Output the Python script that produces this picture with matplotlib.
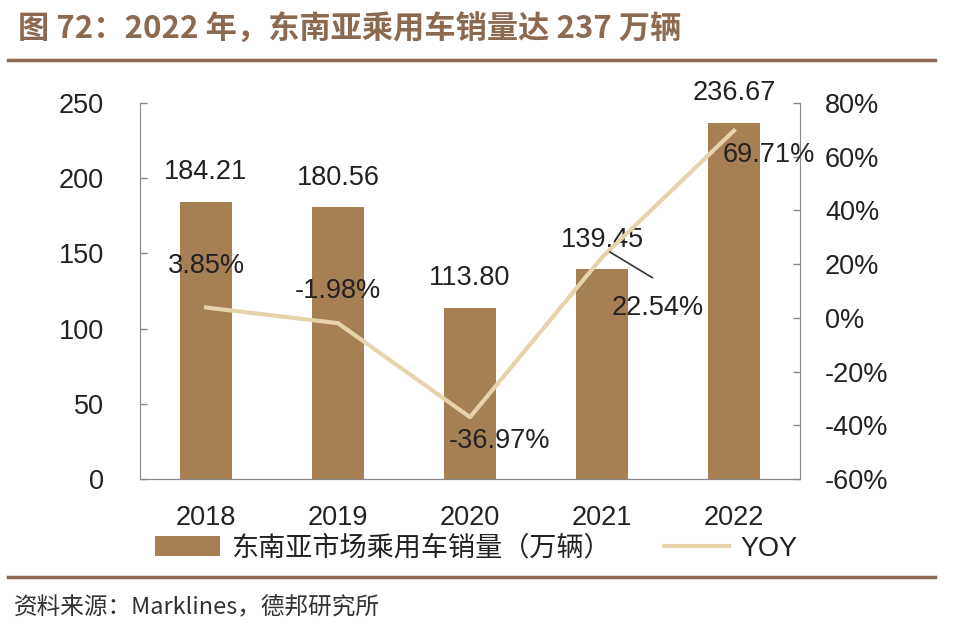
import matplotlib
matplotlib.use("Agg")
import matplotlib.pyplot as plt
from matplotlib.ticker import FuncFormatter
from matplotlib.patches import Patch
from matplotlib.lines import Line2D

years = ["2018", "2019", "2020", "2021", "2022"]
sales = [184.21, 180.56, 113.80, 139.45, 236.67]
yoy = [3.85, -1.98, -36.97, 22.54, 69.71]
sales_labels = ["184.21", "180.56", "113.80", "139.45", "236.67"]
yoy_labels = ["3.85%", "-1.98%", "-36.97%", "22.54%", "69.71%"]

plt.rcParams['font.family'] = ['Liberation Sans', 'Noto Sans CJK SC', 'DejaVu Sans']
cjk = ['Noto Sans CJK SC', 'DejaVu Sans']

BAR = '#A67F52'
LINE = '#E6D3AC'
TXT = '#222222'
FS = 19.5

fig = plt.figure(figsize=(9.6, 6.28), dpi=100)
W, H = 960, 628
ax = fig.add_axes([140 / W, 1 - 479 / H, 660 / W, 376 / H])
ax2 = ax.twinx()

x = list(range(len(years)))
ax.bar(x, sales, width=0.4, color=BAR, zorder=2)
ax.set_xlim(-0.5, 4.5)
ax.set_ylim(0, 250)
ax.set_yticks([0, 50, 100, 150, 200, 250])
ax.set_xticks(x)
ax.set_xticklabels(years)
ax2.plot(x, yoy, color=LINE, lw=3, zorder=3)
ax2.set_ylim(-60, 80)
ax2.set_yticks(range(-60, 81, 20))
ax2.yaxis.set_major_formatter(FuncFormatter(lambda v, p: f"{int(v)}%"))

for a in (ax, ax2):
    a.spines['top'].set_visible(False)
    for s in ['left', 'right', 'bottom']:
        a.spines[s].set_color('#888888')
    a.tick_params(labelsize=FS, colors=TXT, length=5, width=1)
ax.tick_params(axis='y', direction='in', color='#888888', pad=26)
ax2.tick_params(axis='y', direction='in', color='#888888', pad=18)
ax.tick_params(axis='x', length=0, pad=19)
ax2.spines['left'].set_visible(False)
ax.spines['right'].set_visible(False)
ax.set_zorder(0)
ax2.set_zorder(1)
ax2.patch.set_visible(False)

for i, (v, lab) in enumerate(zip(sales, sales_labels)):
    ax.annotate(lab, (i, v), xytext=(0, 12), textcoords='offset points',
                ha='center', va='bottom', fontsize=FS, color=TXT, zorder=5)

yoy_pos = [(0, 3.85 + 15.5), (1, -1.98 + 12), (2.22, -46), (3.42, 3.5), (4.26, 60.5)]
for i, lab in enumerate(yoy_labels):
    ax2.text(yoy_pos[i][0], yoy_pos[i][1], lab, ha='center', va='center',
             fontsize=FS, color=TXT, zorder=5)
ax2.plot([3.06, 3.38], [24.5, 15.0], color='#333333', lw=1.2, zorder=4)

handles = [Patch(facecolor=BAR, edgecolor='none'), Line2D([0], [0], color=LINE, lw=3)]
leg = fig.legend(handles, ["东南亚市场乘用车销量（万辆）", "YOY"], loc='center',
                 bbox_to_anchor=(476 / W, 1 - 548 / H), ncol=2, frameon=False,
                 fontsize=FS, handlelength=2.4, handleheight=0.8, columnspacing=2.0,
                 handletextpad=0.4)
for t in leg.get_texts():
    t.set_family(cjk if t.get_text() != "YOY" else ['Liberation Sans'])
    t.set_color(TXT)

fig.text(18 / W, 1 - 30 / H, "图 72：2022 年，东南亚乘用车销量达 237 万辆", family=cjk,
         fontsize=22.5, fontweight='bold', color='#8C6A52', va='center', ha='left')
fig.add_artist(Line2D([8 / W, 935 / W], [1 - 60 / H, 1 - 60 / H], color='#8C6A52', lw=2.5))
fig.add_artist(Line2D([8 / W, 935 / W], [1 - 577 / H, 1 - 577 / H], color='#8C6A52', lw=2.5))
fig.text(14 / W, 1 - 607 / H, "资料来源：Marklines，德邦研究所", family=cjk,
         fontsize=17, color='#333333', va='center', ha='left')

fig.savefig("out.png", dpi=100)
